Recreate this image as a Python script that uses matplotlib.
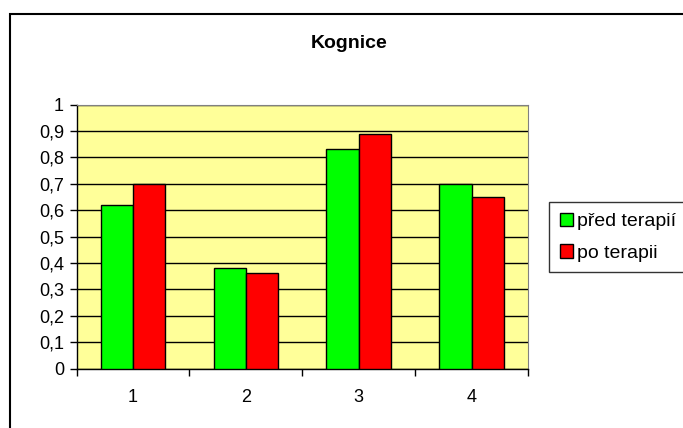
import matplotlib.pyplot as plt
import numpy as np
from matplotlib.patches import Rectangle

plt.rcParams['font.family'] = ['Liberation Sans', 'DejaVu Sans']

# data for the chart
categories = ['1', '2', '3', '4']
pred_terapii = [0.62, 0.38, 0.83, 0.70]
po_terapii = [0.70, 0.36, 0.89, 0.65]
ticks_y = [0, 0.1, 0.2, 0.3, 0.4, 0.5, 0.6, 0.7, 0.8, 0.9, 1.0]

W, H = 683, 428
fig = plt.figure(figsize=(W / 100, H / 100), dpi=100)

# outer chart frame (runs off the right and bottom edge)
fig.patches.append(Rectangle((10 / W, -0.05), 1.1, (H - 14) / H + 0.05, transform=fig.transFigure,
                             fill=False, edgecolor='black', linewidth=1.5, zorder=0))

ax = fig.add_axes([76.5 / W, (H - 368.5) / H, 451.5 / W, 264 / H])
ax.set_facecolor('#FFFF99')

x = np.arange(len(categories))
bw = 1 / 3.5
ax.bar(x - bw / 2, pred_terapii, bw, color='#00FF00', edgecolor='black', linewidth=1,
       label='před terapií', zorder=3)
ax.bar(x + bw / 2, po_terapii, bw, color='#FF0000', edgecolor='black', linewidth=1,
       label='po terapii', zorder=3)

ax.set_xlim(-0.5, len(categories) - 0.5)
ax.set_ylim(0, 1)
ax.set_yticks(ticks_y)
ax.set_yticklabels([('%g' % t).replace('.', ',') for t in ticks_y])
ax.yaxis.grid(True, color='black', linewidth=1, zorder=1)
ax.set_axisbelow(True)

# category ticks sit on the boundaries, labels in the middle
ax.set_xticks(np.arange(-0.5, len(categories)), labels=[''] * (len(categories) + 1))
ax.set_xticks(x, labels=categories, minor=True)
ax.tick_params(axis='x', which='minor', length=0, pad=15, labelsize=13)
ax.tick_params(axis='x', which='major', direction='out', length=5, width=1)
ax.tick_params(axis='y', direction='out', length=5, width=1, labelsize=13, pad=4)

for s in ['top', 'right']:
    ax.spines[s].set_color('#808080')
for s in ['left', 'bottom']:
    ax.spines[s].set_color('black')
    ax.spines[s].set_linewidth(1)

fig.text(349 / W, 1 - 44 / H, 'Kognice', ha='center', va='center', fontsize=14, fontweight='bold')

leg = fig.legend(loc='upper left', bbox_to_anchor=(549 / W, 1 - 202 / H), fontsize=14,
                 frameon=True, fancybox=False, handlelength=0.7, handleheight=0.7,
                 handletextpad=0.2, borderpad=0.55, labelspacing=0.7, borderaxespad=0)
leg.get_frame().set_edgecolor('black')
leg.get_frame().set_linewidth(1)

fig.savefig('out.png', dpi=100)
